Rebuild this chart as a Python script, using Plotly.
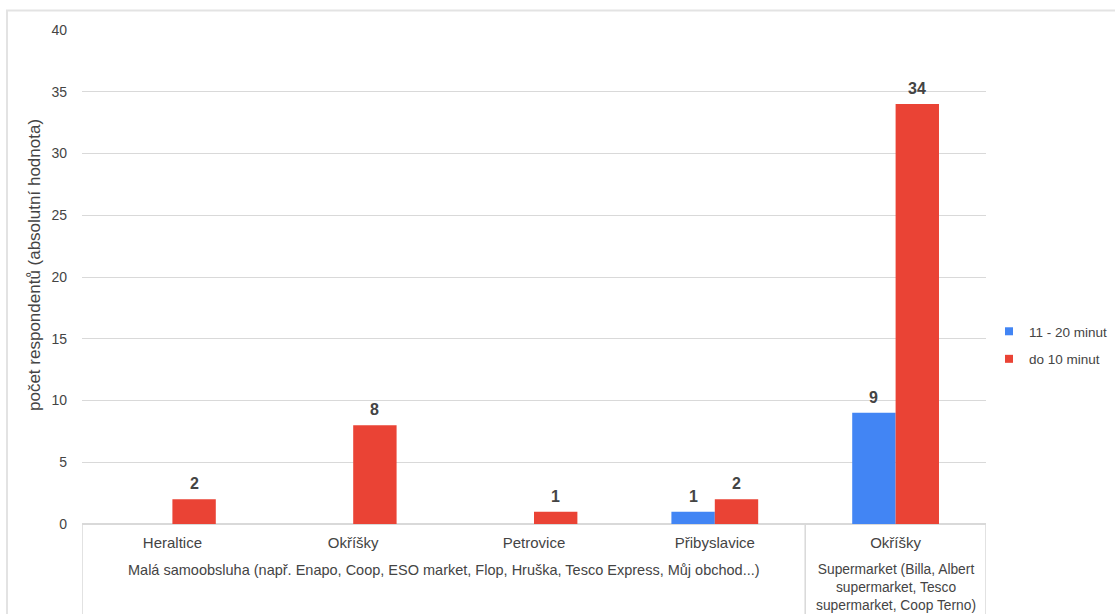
import plotly.graph_objects as go

# Shops (first-level categories) and their groups
shops = ["Heraltice", "Okříšky", "Petrovice", "Přibyslavice", "Okříšky"]
group_labels = [
    "Malá samoobsluha (např. Enapo, Coop, ESO market, Flop, Hruška, Tesco Express, Můj obchod...)",
    "Supermarket (Billa, Albert<br>supermarket, Tesco<br>supermarket, Coop Terno)",
]
group_spans = [(0, 3), (4, 4)]
group_font_sizes = [14.5, 13.8]

# Respondent counts per travel time
series_names = ["11 - 20 minut", "do 10 minut"]
minut_11_20 = [None, None, None, 1, 9]
do_10_minut = [2, 8, 1, 2, 34]
series_values = [minut_11_20, do_10_minut]
series_colors = ["#4285F4", "#EA4335"]

y_ticks = [0, 5, 10, 15, 20, 25, 30, 35, 40]

FONT = "Arial, Liberation Sans, sans-serif"
TEXT = "#444444"
GRID = "#d9d9d9"
BARGAP = 0.52

x_pos = list(range(len(shops)))
n_series = len(series_names)
bar_w = (1 - BARGAP) / n_series

fig = go.Figure()
annotations = []
for i, (name, vals, color) in enumerate(zip(series_names, series_values, series_colors)):
    fig.add_trace(go.Bar(
        x=x_pos, y=vals, name=name, marker=dict(color=color, line=dict(width=0)),
        showlegend=False,
    ))
    # legend entry with a small square swatch
    fig.add_trace(go.Scatter(
        x=[None], y=[None], mode="markers", name=name,
        marker=dict(symbol="square", size=8, color=color),
        legendgroup=name,
    ))
    # value labels above each bar
    shift = -(1 - BARGAP) / 2 + bar_w * (i + 0.5)
    for xv, v in zip(x_pos, vals):
        if v is None:
            continue
        annotations.append(dict(
            x=xv + shift, y=v, xref="x", yref="y", text=f"<b>{v}</b>",
            showarrow=False, xanchor="center", yanchor="bottom", yshift=5,
            font=dict(family=FONT, size=16, color=TEXT),
        ))

W, H = 1115, 614
L, R, T, B = 82, 129, 30, 90
pw, ph = W - L - R, H - T - B

def px_x(p):
    return (p - L) / pw

def px_y(p):
    return (H - B - p) / ph

shapes = []
# outer chart border
shapes.append(dict(type="rect", xref="paper", yref="paper",
                   x0=px_x(7), x1=px_x(1140), y0=px_y(640), y1=px_y(10.5),
                   line=dict(color="#e3e3e3", width=2), layer="below"))
# category box dividers
for xv in [-0.5, 3.5, 4.5]:
    shapes.append(dict(type="line", xref="x", yref="paper", x0=xv, x1=xv,
                       y0=0, y1=px_y(640), line=dict(color=GRID, width=1.5)))

for label, (a, b), fs in zip(group_labels, group_spans, group_font_sizes):
    annotations.append(dict(
        x=(a + b) / 2, y=px_y(560), xref="x", yref="paper",
        text=label, showarrow=False, xanchor="center", yanchor="top",
        font=dict(family=FONT, size=fs, color=TEXT), align="center",
    ))
annotations.append(dict(
    x=px_x(34), y=px_y(265), xref="paper", yref="paper",
    text="počet respondentů (absolutní hodnota)", textangle=-90,
    showarrow=False, xanchor="center", yanchor="middle",
    font=dict(family=FONT, size=17, color=TEXT),
))

fig.update_layout(
    width=W, height=H,
    margin=dict(l=L, r=R, t=T, b=B, autoexpand=False),
    paper_bgcolor="white", plot_bgcolor="white",
    barmode="group", bargap=BARGAP, bargroupgap=0,
    font=dict(family=FONT, size=14, color=TEXT),
    shapes=shapes, annotations=annotations,
    legend=dict(x=px_x(989), y=px_y(316), xanchor="left", yanchor="top",
                font=dict(family=FONT, size=13.5, color=TEXT),
                tracegroupgap=7, itemwidth=30, bgcolor="rgba(0,0,0,0)"),
    xaxis=dict(range=[-0.5, 4.5], tickvals=x_pos, ticktext=shops,
               showgrid=False, zeroline=False, showline=False, ticks="",
               ticklabelstandoff=8,
               tickfont=dict(family=FONT, size=15, color=TEXT), fixedrange=True),
    yaxis=dict(range=[0, 40], tickvals=y_ticks, showgrid=True, gridcolor=GRID,
               gridwidth=1, zeroline=True, zerolinecolor=GRID, zerolinewidth=1.5,
               showline=False, ticks="", ticklabelstandoff=14,
               tickfont=dict(family=FONT, size=14, color=TEXT)),
)

fig.write_html("out.html")
